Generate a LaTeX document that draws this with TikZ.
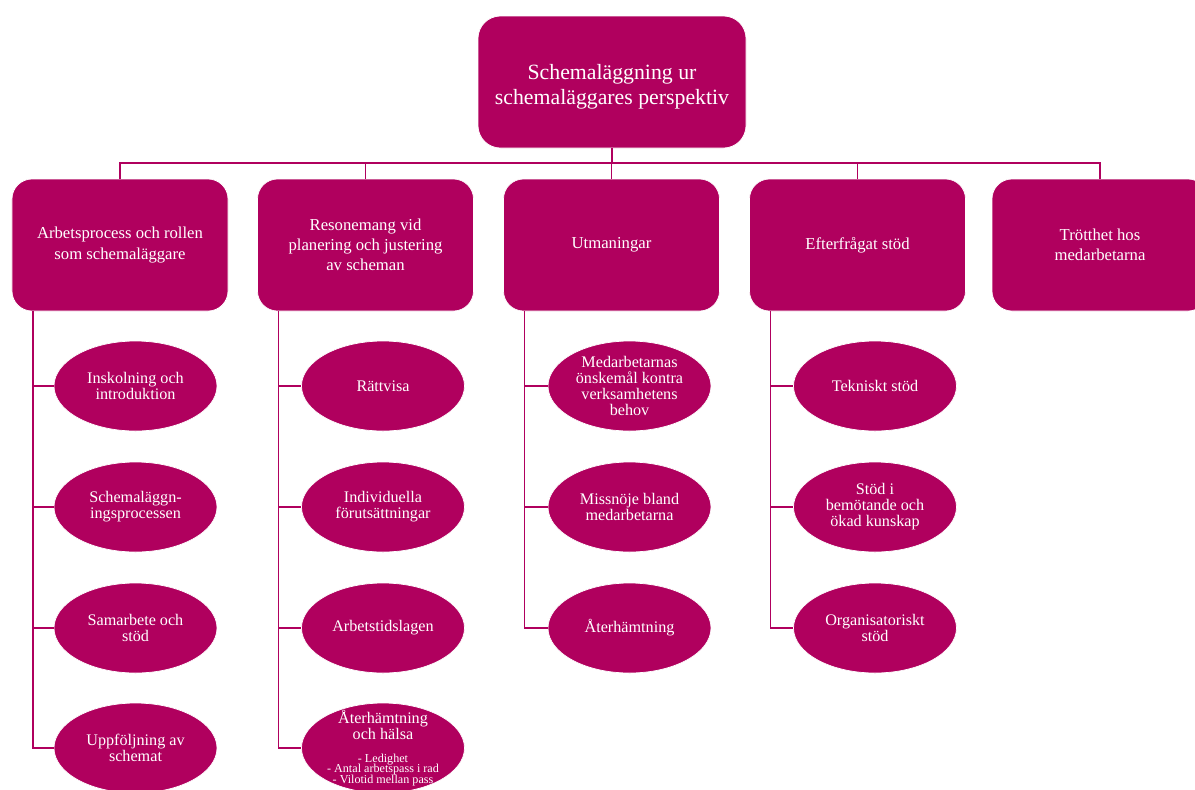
\documentclass[tikz,border=0pt]{standalone}
\usepackage{fontspec}
\setmainfont{Liberation Serif}
\usepackage{tikz}
\usetikzlibrary{positioning, calc, shapes.geometric}
\definecolor{plum}{RGB}{176,0,94}
\tikzset{
    topbox/.style={draw=white, fill=plum, text=white, rounded corners=0.45cm,
        minimum width=5.36cm, minimum height=2.64cm, align=center, text height=28.5pt,
        font=\fontsize{12.4}{14.2}\selectfont},
    themebox/.style={draw=white, fill=plum, text=white, rounded corners=0.4cm,
        minimum width=4.32cm, minimum height=2.64cm, align=center,
        font=\fontsize{9.5}{11.4}\selectfont},
    leaf/.style={ellipse, draw=white, fill=plum, text=white, inner sep=-8pt,
        minimum width=3.26cm, minimum height=1.8cm, align=center,
        font=\fontsize{9.2}{9.1}\selectfont},
    link/.style={plum, line width=0.8pt}
}
\newcommand{\smalllist}{\fontsize{6.9}{6.6}\selectfont}
\begin{document}
\begin{tikzpicture}
    % Frame of the page
    \clip (0,0) rectangle (23.9,-15.78);

    % Top
    \node[topbox] (root) at (12.24,-1.64) {Schemaläggning ur\\schemaläggares perspektiv};
    \coordinate (bus) at (12.24,-3.26);

    % Themes
    \node[themebox] (arb) at (2.4,-4.9)   {Arbetsprocess och rollen\\som schemaläggare};
    \node[themebox] (res) at (7.31,-4.9)  {Resonemang vid\\planering och justering\\av scheman};
    \node[themebox] (utm) at (12.23,-4.9) {Utmaningar};
    \node[themebox] (eft) at (17.15,-4.9) {Efterfrågat stöd};
    \node[themebox] (tro) at (22.0,-4.9)  {Trötthet hos\\medarbetarna};

    % Bus
    \foreach \t in {arb,res,utm,eft,tro} {
        \draw[link] (root.south) -- (root.south |- bus) -| (\t.north);
    }

    % Subthemes
    \node[leaf] (arb1) at (2.71,-7.72)  {Inskolning och\\introduktion};
    \node[leaf] (arb2) at (2.71,-10.14) {Schemaläggn-\\ingsprocessen};
    \node[leaf] (arb3) at (2.71,-12.56) {Samarbete och\\stöd};
    \node[leaf] (arb4) at (2.71,-14.96) {Uppföljning av\\schemat};

    \node[leaf] (res1) at (7.66,-7.72)  {Rättvisa};
    \node[leaf] (res2) at (7.66,-10.14) {Individuella\\förutsättningar};
    \node[leaf] (res3) at (7.66,-12.56) {Arbetstidslagen};
    \node[leaf] (res4) at (7.66,-14.96) {Återhämtning\\och hälsa\\[4pt]
        \smalllist - Ledighet\\[-3pt]\smalllist - Antal arbetspass i rad\\[-3pt]\smalllist - Vilotid mellan pass};

    \node[leaf] (utm1) at (12.59,-7.72)  {Medarbetarnas\\önskemål kontra\\verksamhetens\\behov};
    \node[leaf] (utm2) at (12.59,-10.14) {Missnöje bland\\medarbetarna};
    \node[leaf] (utm3) at (12.59,-12.56) {Återhämtning};

    \node[leaf] (eft1) at (17.5,-7.72)  {Tekniskt stöd};
    \node[leaf] (eft2) at (17.5,-10.14) {Stöd i\\bemötande och\\ökad kunskap};
    \node[leaf] (eft3) at (17.5,-12.56) {Organisatoriskt\\stöd};

    % Connectors down each column
    \foreach \t/\n in {arb/1,arb/2,arb/3,arb/4,res/1,res/2,res/3,res/4,
                       utm/1,utm/2,utm/3,eft/1,eft/2,eft/3} {
        \draw[link] ([xshift=0.43cm]\t.south west) |- (\t\n.west);
    }
\end{tikzpicture}
\end{document}
